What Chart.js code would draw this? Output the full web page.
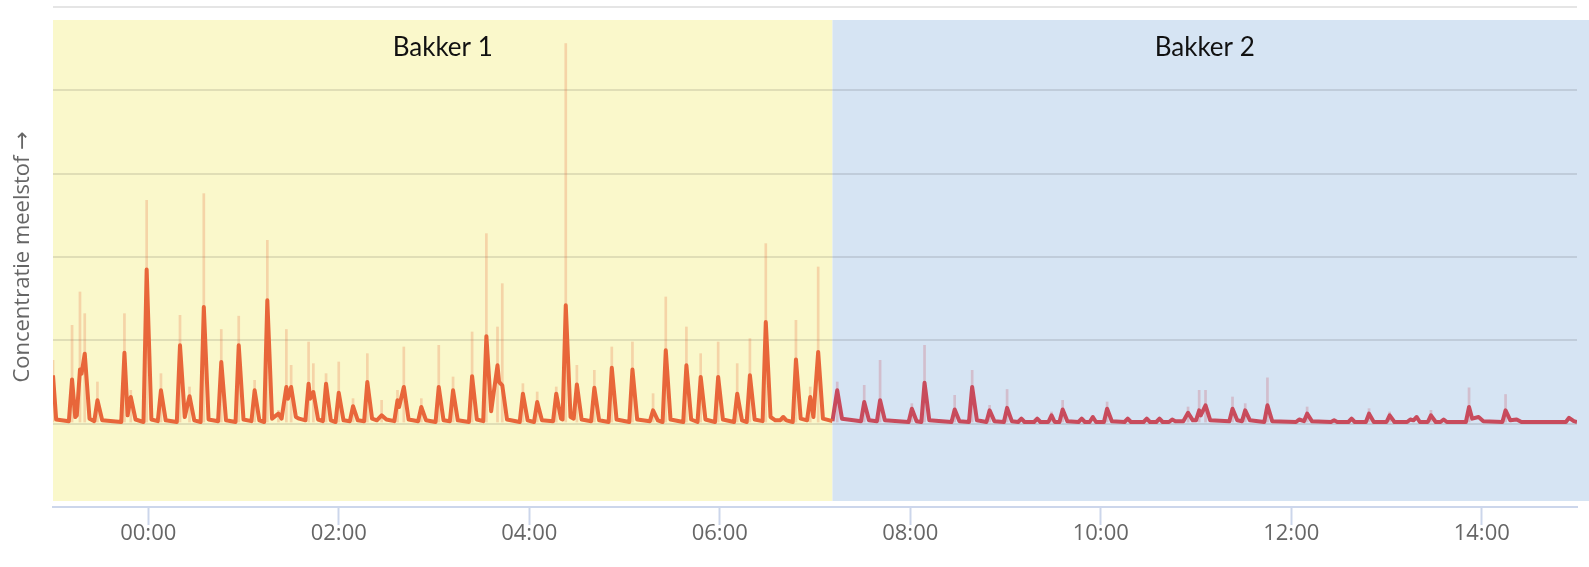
<!DOCTYPE html>
<html>
<head>
<meta charset="utf-8">
<script src="https://cdn.jsdelivr.net/npm/chart.js@4.4.0/dist/chart.umd.min.js"></script>
<style>
  html, body { margin: 0; padding: 0; background: #fff; }
  #wrap { width: 1589px; height: 567px; }
</style>
</head>
<body>
<div id="wrap"><canvas id="dustChart"></canvas></div>
<script>
// time is in minutes since 23:00 the evening before
const tickMinutes = [60, 180, 300, 420, 540, 660, 780, 900];

const bandNames = ['Bakker 1', 'Bakker 2'];
const bandStart = [0, 491];
const bandEnd = [491, 960];

// average concentration, Bakker 1 [minute, value]
const bakker1Avg = [
  [0, 1.58], [2, 1.05], [10, 1.03], [12, 1.53], [14, 1.08], [15, 1.10], [17, 1.65], [18, 1.60], [20, 1.84], [23, 1.06],
  [26, 1.03], [28, 1.28], [31, 1.04], [43, 1.02], [45, 1.85], [47, 1.10], [49, 1.32], [52, 1.05],
  [57, 1.02], [59, 2.85], [62, 1.05], [66, 1.03], [68, 1.40], [71, 1.04],
  [78, 1.02], [80, 1.94], [83, 1.08], [86, 1.33], [89, 1.04], [93, 1.02], [95, 2.40], [98, 1.05],
  [104, 1.03], [106, 1.74], [109, 1.04], [115, 1.02], [117, 1.94], [120, 1.05],
  [125, 1.03], [127, 1.40], [130, 1.04], [133, 1.02], [135, 2.48], [138, 1.06], [142, 1.12], [144, 1.06],
  [147, 1.44], [148, 1.30], [150, 1.44], [153, 1.08], [155, 1.06], [159, 1.04], [161, 1.48], [162, 1.30], [164, 1.38], [167, 1.05],
  [170, 1.03], [172, 1.48], [175, 1.04], [178, 1.02], [180, 1.37], [183, 1.04],
  [187, 1.03], [189, 1.21], [192, 1.04], [196, 1.03], [198, 1.50], [201, 1.06], [204, 1.04], [207, 1.10], [210, 1.05],
  [215, 1.03], [217, 1.28], [218, 1.20], [221, 1.44], [224, 1.05], [230, 1.03], [232, 1.20], [235, 1.04],
  [241, 1.02], [243, 1.44], [246, 1.04], [250, 1.03], [252, 1.40], [255, 1.04],
  [262, 1.02], [264, 1.57], [267, 1.05], [271, 1.03], [273, 2.05], [276, 1.15], [280, 1.70], [281, 1.50], [283, 1.46], [286, 1.05],
  [294, 1.02], [296, 1.36], [299, 1.04], [303, 1.02], [305, 1.26], [308, 1.04],
  [315, 1.03], [317, 1.36], [320, 1.06], [321, 1.05], [323, 2.42], [326, 1.08], [328, 1.06], [330, 1.47], [333, 1.05],
  [339, 1.03], [341, 1.43], [344, 1.04], [350, 1.02], [352, 1.67], [355, 1.05],
  [363, 1.02], [365, 1.65], [368, 1.05], [376, 1.03], [378, 1.16], [381, 1.04],
  [384, 1.02], [386, 1.88], [389, 1.05], [397, 1.02], [399, 1.70], [402, 1.05],
  [406, 1.02], [408, 1.56], [411, 1.05], [417, 1.02], [419, 1.56], [422, 1.05],
  [429, 1.02], [431, 1.36], [434, 1.04], [437, 1.02], [439, 1.58], [442, 1.05],
  [447, 1.03], [449, 2.22], [452, 1.08], [455, 1.04], [458, 1.04], [460, 1.08], [462, 1.04],
  [466, 1.02], [468, 1.77], [471, 1.06], [475, 1.04], [477, 1.32], [479, 1.08], [482, 1.86], [485, 1.06], [491, 1.03]
];

// peak (max) concentration, Bakker 1 [minute, value]
const bakker1Max = [
  [0, 1.76], [12, 2.18], [17, 2.58], [20, 2.32], [28, 1.50], [45, 2.32], [49, 1.40], [59, 3.68], [68, 1.60],
  [80, 2.30], [86, 1.44], [95, 3.76], [106, 2.13], [117, 2.29], [127, 1.52], [135, 3.20], [142, 1.16],
  [147, 2.13], [150, 1.70], [161, 1.98], [164, 1.72], [172, 1.60], [180, 1.74], [189, 1.30], [198, 1.84],
  [207, 1.28], [217, 1.40], [221, 1.92], [232, 1.30], [243, 1.94], [252, 1.56], [264, 2.10], [273, 3.28],
  [280, 2.16], [283, 2.68], [296, 1.48], [305, 1.38], [317, 1.44], [323, 5.56], [330, 1.70], [341, 1.64],
  [352, 1.92], [365, 1.98], [378, 1.36], [386, 2.52], [399, 2.16], [408, 1.84], [419, 1.98], [431, 1.72],
  [439, 2.02], [449, 3.16], [460, 1.10], [468, 2.24], [477, 1.44], [482, 2.88]
];

// average concentration, Bakker 2 [minute, value]
const bakker2Avg = [
  [491, 1.03], [494, 1.40], [497, 1.06], [509, 1.03], [511, 1.26], [514, 1.04], [519, 1.03], [521, 1.28], [524, 1.04],
  [539, 1.02], [541, 1.18], [544, 1.03], [547, 1.02], [549, 1.49], [552, 1.04],
  [566, 1.02], [568, 1.17], [571, 1.03], [577, 1.02], [579, 1.44], [582, 1.04],
  [588, 1.02], [590, 1.16], [593, 1.03], [599, 1.02], [601, 1.19], [604, 1.03],
  [608, 1.02], [610, 1.06], [612, 1.02], [618, 1.02], [620, 1.06], [622, 1.02],
  [627, 1.02], [629, 1.10], [631, 1.02], [634, 1.02], [636, 1.17], [639, 1.03],
  [646, 1.02], [648, 1.06], [650, 1.02], [653, 1.02], [655, 1.08], [657, 1.02],
  [662, 1.02], [664, 1.18], [667, 1.03], [675, 1.02], [677, 1.06], [679, 1.02],
  [687, 1.02], [689, 1.06], [691, 1.02], [695, 1.02], [697, 1.06], [699, 1.02],
  [703, 1.02], [705, 1.05], [707, 1.03], [712, 1.03], [715, 1.13], [718, 1.04],
  [720, 1.04], [722, 1.16], [723, 1.10], [726, 1.22], [729, 1.04],
  [741, 1.03], [743, 1.18], [746, 1.04], [749, 1.03], [751, 1.16], [754, 1.04],
  [763, 1.02], [765, 1.22], [768, 1.03], [783, 1.02], [785, 1.05], [788, 1.03], [790, 1.12], [793, 1.03],
  [805, 1.02], [807, 1.04], [809, 1.02], [816, 1.02], [818, 1.06], [820, 1.02],
  [827, 1.02], [829, 1.12], [832, 1.02], [840, 1.02], [842, 1.10], [845, 1.02],
  [853, 1.02], [855, 1.05], [857, 1.04], [859, 1.08], [861, 1.02], [866, 1.02], [868, 1.10], [871, 1.02],
  [874, 1.02], [876, 1.05], [878, 1.02], [890, 1.02], [892, 1.20], [894, 1.06], [898, 1.08], [901, 1.03],
  [913, 1.02], [915, 1.16], [918, 1.04], [922, 1.05], [925, 1.02], [953, 1.02], [955, 1.07], [958, 1.03], [960, 1.02]
];

// peak (max) concentration, Bakker 2 [minute, value]
const bakker2Max = [
  [494, 1.50], [511, 1.46], [521, 1.76], [541, 1.24], [549, 1.94], [568, 1.34], [579, 1.64], [590, 1.22],
  [601, 1.41], [629, 1.14], [636, 1.28], [664, 1.26], [715, 1.20], [722, 1.40], [726, 1.40], [743, 1.32],
  [751, 1.24], [765, 1.55], [790, 1.20], [829, 1.18], [842, 1.14], [868, 1.16], [892, 1.43], [915, 1.35]
];

const toPoints = arr => arr.map(p => ({ x: p[0], y: p[1] }));

function clockLabel(v) {
  const m = (23 * 60 + v) % 1440;
  const h = Math.floor(m / 60), mm = m % 60;
  return String(h).padStart(2, '0') + ':' + String(mm).padStart(2, '0');
}

// shaded blocks per baker with a name on top
const bandPlugin = {
  id: 'bands',
  beforeDraw(chart) {
    const { ctx, chartArea: a, scales: { x } } = chart;
    const colors = ['#faf8cb', '#d6e4f3'];
    ctx.save();
    bandNames.forEach((name, i) => {
      const left = x.getPixelForValue(bandStart[i]);
      const right = i === bandNames.length - 1 ? chart.width : x.getPixelForValue(bandEnd[i]);
      ctx.fillStyle = colors[i];
      ctx.fillRect(left, a.top + 13, right - left, a.bottom - a.top - 19);
      const mid = (x.getPixelForValue(bandStart[i]) + x.getPixelForValue(bandEnd[i])) / 2;
      ctx.fillStyle = '#111';
      ctx.font = '26px Lato';
      ctx.textAlign = 'center';
      ctx.textBaseline = 'middle';
      ctx.fillText(name, mid, 48);
    });
    ctx.restore();
  }
};

Chart.defaults.font.family = "'Open Sans', sans-serif";

new Chart(document.getElementById('dustChart'), {
  type: 'line',
  data: {
    datasets: [
      {
        label: 'Bakker 1',
        data: toPoints(bakker1Avg),
        borderColor: '#e8663a',
        borderWidth: 4,
        borderJoinStyle: 'round',
        pointRadius: 0,
        tension: 0,
        order: 1
      },
      {
        label: 'Bakker 2',
        data: toPoints(bakker2Avg),
        borderColor: '#c84b5c',
        borderWidth: 4,
        borderJoinStyle: 'round',
        pointRadius: 0,
        tension: 0,
        order: 1
      },
      {
        type: 'bar',
        label: 'Bakker 1 max',
        data: toPoints(bakker1Max),
        backgroundColor: 'rgba(232,102,58,0.25)',
        barThickness: 2,
        grouped: false,
        base: 1.02,
        order: 2
      },
      {
        type: 'bar',
        label: 'Bakker 2 max',
        data: toPoints(bakker2Max),
        backgroundColor: 'rgba(200,75,92,0.25)',
        barThickness: 2,
        grouped: false,
        base: 1.02,
        order: 2
      }
    ]
  },
  options: {
    responsive: true,
    maintainAspectRatio: false,
    animation: false,
    layout: { padding: { top: 7, right: 12, left: 0, bottom: 0 } },
    plugins: { legend: { display: false }, tooltip: { enabled: false } },
    scales: {
      x: {
        type: 'linear',
        min: 0,
        max: 960,
        offset: false,
        afterBuildTicks: scale => { scale.ticks = tickMinutes.map(v => ({ value: v })); },
        afterFit: scale => { scale.height = 60; },
        ticks: {
          autoSkip: false,
          maxRotation: 0,
          padding: -4,
          color: '#666',
          font: { size: 22 },
          callback: v => clockLabel(v)
        },
        grid: { offset: false, drawOnChartArea: false, tickLength: 18, tickColor: '#ccd6eb', tickWidth: 2 },
        border: { color: '#ccd6eb', width: 2 }
      },
      y: {
        min: 0,
        max: 6,
        afterFit: scale => { scale.width = 53; },
        ticks: { display: false, stepSize: 1 },
        grid: { color: 'rgba(0,0,0,0.1)', lineWidth: 2, drawTicks: false },
        border: { display: false },
        title: {
          display: true,
          text: 'Concentratie meelstof \u2192',
          color: '#666',
          font: { size: 22, family: "'Open Sans', 'DejaVu Sans'" },
          padding: { top: 10, bottom: 0 }
        }
      }
    }
  },
  plugins: [bandPlugin]
});
</script>
</body>
</html>
